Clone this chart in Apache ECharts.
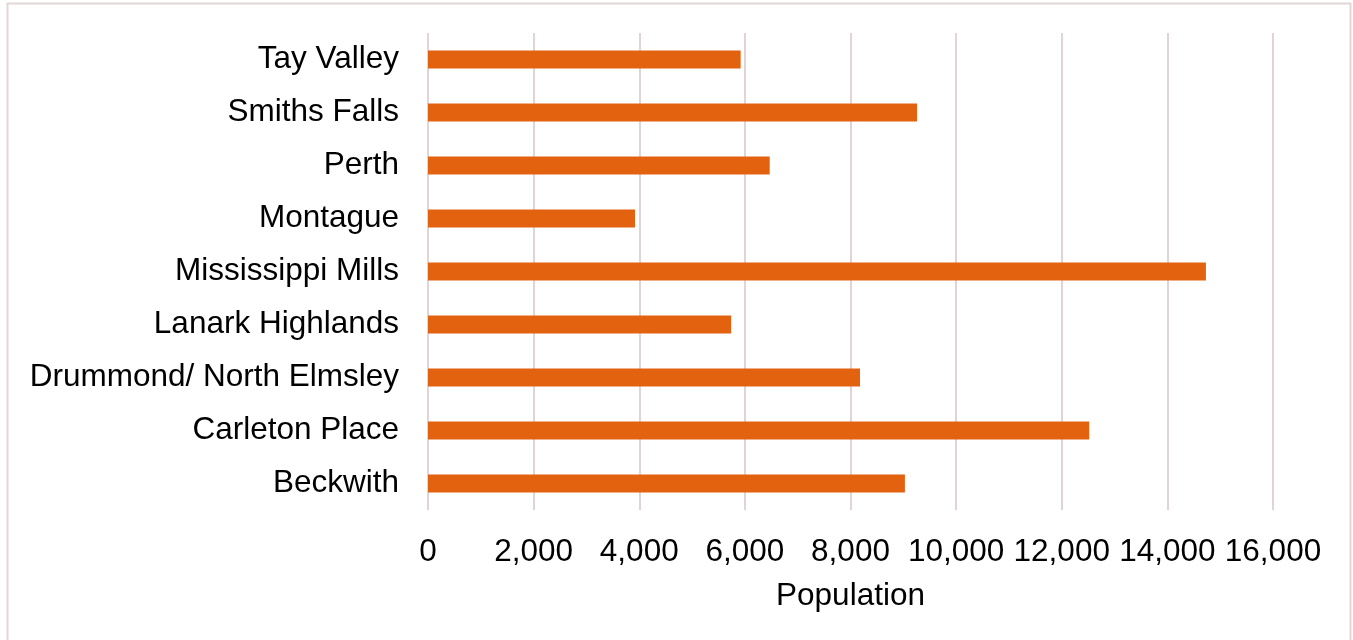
<!DOCTYPE html>
<html>
<head>
<meta charset="utf-8">
<script src="https://cdn.jsdelivr.net/npm/echarts@6/dist/echarts.min.js"></script>
<style>
  html, body { margin: 0; padding: 0; background: #ffffff; }
  #chart { width: 1353px; height: 640px; }
</style>
</head>
<body>
<div id="chart"></div>
<script>
// Municipalities, listed bottom to top as on the category axis
const municipalities = [
  'Beckwith',
  'Carleton Place',
  'Drummond/ North Elmsley',
  'Lanark Highlands',
  'Mississippi Mills',
  'Montague',
  'Perth',
  'Smiths Falls',
  'Tay Valley'
];

// Population of each municipality
const population = [9030, 12520, 8180, 5740, 14730, 3920, 6470, 9260, 5920];

// Value axis range and tick step
const axisMin = 0;
const axisMax = 16000;
const axisStep = 2000;

const chart = echarts.init(document.getElementById('chart'), null, { renderer: 'canvas' });

const fontFamily = '"Liberation Sans", Arial, sans-serif';
const fontSize = 31.5;

chart.setOption({
  animation: false,
  backgroundColor: '#ffffff',
  graphic: [{
    type: 'rect',
    shape: { x: 7.5, y: 3.5, width: 1343, height: 660 },
    style: { fill: 'none', stroke: '#e2d6d6', lineWidth: 2 },
    silent: true
  }],
  grid: { left: 428, right: 80, top: 33, bottom: 130, containLabel: false },
  xAxis: {
    type: 'value',
    min: axisMin,
    max: axisMax,
    interval: axisStep,
    name: 'Population',
    nameLocation: 'middle',
    nameGap: 70,
    nameTextStyle: { color: '#000000', fontSize: fontSize, fontFamily: fontFamily },
    axisLine: { show: false },
    axisTick: { show: false },
    axisLabel: {
      color: '#000000',
      fontSize: fontSize,
      fontFamily: fontFamily,
      margin: 26,
      formatter: v => v.toLocaleString('en-US')
    },
    splitLine: { show: true, lineStyle: { color: '#e0d4d6', width: 2 } }
  },
  yAxis: {
    type: 'category',
    data: municipalities,
    axisLine: { show: false },
    axisTick: { show: false },
    axisLabel: {
      color: '#000000',
      fontSize: fontSize,
      fontFamily: fontFamily,
      margin: 29,
      padding: [5, 0, 0, 0]
    },
    splitLine: { show: false }
  },
  series: [{
    type: 'bar',
    data: population,
    barWidth: 18,
    itemStyle: { color: '#e36210' }
  }]
});
</script>
</body>
</html>
